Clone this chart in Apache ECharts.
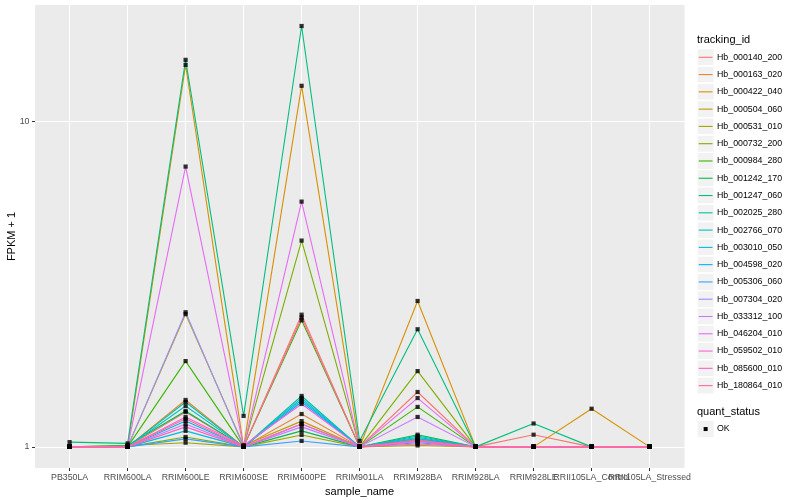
<!DOCTYPE html>
<html><head><meta charset="utf-8">
<script src="https://cdn.jsdelivr.net/npm/echarts@6/dist/echarts.min.js"></script>
<style>html,body{margin:0;padding:0;background:#fff}#c{width:800px;height:500px}</style>
</head><body><div id="c"></div>
<script>
const categories = ['PB350LA','RRIM600LA','RRIM600LE','RRIM600SE','RRIM600PE','RRIM901LA','RRIM928BA','RRIM928LA','RRIM928LE','RRII105LA_Control','RRII105LA_Stressed'];
const trackingIds = ['Hb_000140_200','Hb_000163_020','Hb_000422_040','Hb_000504_060','Hb_000531_010','Hb_000732_200','Hb_000984_280','Hb_001242_170','Hb_001247_060','Hb_002025_280','Hb_002766_070','Hb_003010_050','Hb_004598_020','Hb_005306_060','Hb_007304_020','Hb_033312_100','Hb_046204_010','Hb_059502_010','Hb_085600_010','Hb_180864_010'];
const quantStatus = ['OK'];
const yTicks = [1, 10];

const Hb_000140_200 = [1, 1, 1.28, 1, 2.55, 1, 1.475, 1, 1.09, 1, 1];
const Hb_000163_020 = [1, 1, 1.394, 1, 1.262, 1, 1.06, 1, 1, 1, 1];
const Hb_000422_040 = [1, 1, 14.96, 1, 12.9, 1, 2.81, 1, 1, 1.31, 1];
const Hb_000504_060 = [1, 1, 2.56, 1.01, 1.2, 1, 1.05, 1, 1, 1, 1];
const Hb_000531_010 = [1, 1.01, 1.03, 1, 1.088, 1, 1.01, 1, 1, 1, 1];
const Hb_000732_200 = [1, 1, 1.073, 1, 4.31, 1, 1.71, 1, 1, 1, 1];
const Hb_000984_280 = [1, 1, 1.836, 1, 2.45, 1, 1.327, 1, 1, 1, 1];
const Hb_001242_170 = [1, 1.01, 1.29, 1, 1.12, 1, 1.09, 1, 1, 1, 1];
const Hb_001247_060 = [1.034, 1.025, 15.5, 1.245, 19.7, 1.043, 2.30, 1, 1.18, 1, 1];
const Hb_002025_280 = [1, 1, 1.374, 1, 1.434, 1, 1.08, 1, 1, 1, 1];
const Hb_002766_070 = [1, 1, 1.336, 1, 1.413, 1, 1.07, 1, 1, 1, 1];
const Hb_003010_050 = [1, 1, 1.12, 1, 1.394, 1, 1.06, 1, 1, 1, 1];
const Hb_004598_020 = [1, 1, 1.202, 1, 1.374, 1, 1.05, 1, 1, 1, 1];
const Hb_005306_060 = [1, 1, 1.058, 1, 1.043, 1, 1.03, 1, 1, 1, 1];
const Hb_007304_020 = [1, 1, 2.595, 1, 1.176, 1, 1.04, 1, 1, 1, 1];
const Hb_033312_100 = [1, 1, 1.176, 1, 1.152, 1, 1.236, 1, 1, 1, 1];
const Hb_046204_010 = [1, 1, 7.28, 1, 5.68, 1, 1.413, 1, 1, 1, 1];
const Hb_059502_010 = [1, 1, 1.236, 1.01, 1.355, 1, 1.04, 1, 1, 1, 1];
const Hb_085600_010 = [1, 1, 1.152, 1, 1.176, 1, 1.02, 1, 1, 1, 1];
const Hb_180864_010 = [1, 1, 1.22, 1, 2.50, 1, 1.05, 1, 1, 1, 1];

const seriesValues = [Hb_000140_200, Hb_000163_020, Hb_000422_040, Hb_000504_060, Hb_000531_010, Hb_000732_200, Hb_000984_280, Hb_001242_170, Hb_001247_060, Hb_002025_280, Hb_002766_070, Hb_003010_050, Hb_004598_020, Hb_005306_060, Hb_007304_020, Hb_033312_100, Hb_046204_010, Hb_059502_010, Hb_085600_010, Hb_180864_010];
const colors = ['#F8766D','#EA8331','#D89000','#C09B00','#A3A500','#7CAE00','#39B600','#00BB4E','#00BF7D','#00C1A3','#00BFC4','#00BAE0','#00B0F6','#35A2FF','#9590FF','#C77CFF','#E76BF3','#FA62DB','#FF62BC','#FF6C91'];

const FONT = '"Liberation Sans", Arial, Helvetica, sans-serif';
const chart = echarts.init(document.getElementById('c'), null, {renderer: 'canvas'});

const yMin = 0.861, yMax = 22.86;
const isTick = v => yTicks.some(t => Math.abs(v - t) < 1e-6 * t);

const series = trackingIds.map((id, i) => ({
  name: id, type: 'line', xAxisIndex: 1, yAxisIndex: 1,
  data: seriesValues[i], showSymbol: false, symbol: 'none',
  color: colors[i], lineStyle: {width: 1.1, color: colors[i]},
  emphasis: {disabled: true}, silent: true, z: 2
}));
const points = [];
seriesValues.forEach(arr => arr.forEach((v, j) => points.push([j, v])));
series.push({
  name: quantStatus[0], type: 'scatter', xAxisIndex: 1, yAxisIndex: 1,
  data: points, symbol: 'rect', symbolSize: 4.2, color: '#000',
  itemStyle: {color: '#000'}, emphasis: {disabled: true}, silent: true, z: 3
});

// legend drawn as graphic keys + real text
const LX = 697, keyTop = 48.66, keyStep = 17.28, keyW = 17.28;
const graphics = [];
graphics.push({type: 'text', x: LX, y: 40, style: {text: 'tracking_id', fontSize: 11, fontFamily: FONT, fill: '#000', align: 'left', verticalAlign: 'middle'}});
trackingIds.forEach((id, i) => {
  const top = keyTop + i * keyStep, cy = top + keyStep / 2;
  graphics.push({type: 'rect', shape: {x: LX, y: top, width: keyW, height: keyStep}, style: {fill: '#F2F2F2', stroke: '#fff', lineWidth: 1.4}});
  graphics.push({type: 'line', shape: {x1: LX + 1.7, y1: cy, x2: LX + keyW - 1.7, y2: cy}, style: {stroke: colors[i], lineWidth: 1.1}});
  graphics.push({type: 'text', x: LX + 20, y: cy, style: {text: id, fontSize: 8.8, fontFamily: FONT, fill: '#000', align: 'left', verticalAlign: 'middle'}});
});
graphics.push({type: 'text', x: LX, y: 412, style: {text: 'quant_status', fontSize: 11, fontFamily: FONT, fill: '#000', align: 'left', verticalAlign: 'middle'}});
{
  const top = 420.4, cy = top + keyStep / 2;
  graphics.push({type: 'rect', shape: {x: LX, y: top, width: keyW, height: keyStep}, style: {fill: '#F2F2F2', stroke: '#fff', lineWidth: 1.4}});
  graphics.push({type: 'rect', shape: {x: LX + keyW / 2 - 2, y: cy - 2, width: 4, height: 4}, style: {fill: '#000'}});
  graphics.push({type: 'text', x: LX + 20, y: cy, style: {text: quantStatus[0], fontSize: 8.8, fontFamily: FONT, fill: '#000', align: 'left', verticalAlign: 'middle'}});
}
// y-axis title as real text, centred on the panel
graphics.push({type: 'text', x: 12, y: 236.5, rotation: Math.PI / 2, style: {text: 'FPKM + 1', fontSize: 11, fontFamily: FONT, fill: '#000', align: 'center', verticalAlign: 'middle'}});

chart.setOption({
  animation: false,
  backgroundColor: '#fff',
  textStyle: {fontFamily: FONT},
  grid: [
    {left: 35, right: 115.5, top: 5, bottom: 32, show: true, backgroundColor: '#EBEBEB', borderWidth: 0, containLabel: false, outerBoundsMode: 'none'},
    {left: 69.6, right: 150.4, top: 5, bottom: 32, show: false, containLabel: false, outerBoundsMode: 'none'}
  ],
  xAxis: [
    {gridIndex: 0, type: 'value', show: false, min: 0, max: 1},
    {gridIndex: 1, type: 'category', data: categories, boundaryGap: false,
     axisLine: {show: false},
     axisTick: {show: true, length: 3, lineStyle: {color: '#333', width: 1}},
     axisLabel: {interval: 0, color: '#4D4D4D', fontSize: 8.8, margin: 5, fontFamily: FONT, hideOverlap: false},
     splitLine: {show: true, interval: 0, lineStyle: {color: '#fff', width: 1.1}},
     name: 'sample_name', nameLocation: 'middle', nameGap: 14,
     nameTextStyle: {color: '#000', fontSize: 11, fontFamily: FONT}}
  ],
  yAxis: [
    {gridIndex: 0, type: 'log', logBase: 10, min: yMin, max: yMax,
     axisLine: {show: false},
     axisTick: {show: true, length: 3, lineStyle: {color: '#333', width: 1}, customValues: yTicks},
     axisLabel: {color: '#4D4D4D', fontSize: 8.8, margin: 5.5, fontFamily: FONT, customValues: yTicks,
       formatter: v => isTick(v) ? String(Math.round(v)) : ''},
     splitLine: {show: true, lineStyle: {color: '#fff', width: 1.1}},
     minorSplitLine: {show: false}},
    {gridIndex: 1, type: 'log', logBase: 10, min: yMin, max: yMax, show: false,
     splitLine: {show: false}}
  ],
  graphic: graphics,
  series: series
});
</script></body></html>
